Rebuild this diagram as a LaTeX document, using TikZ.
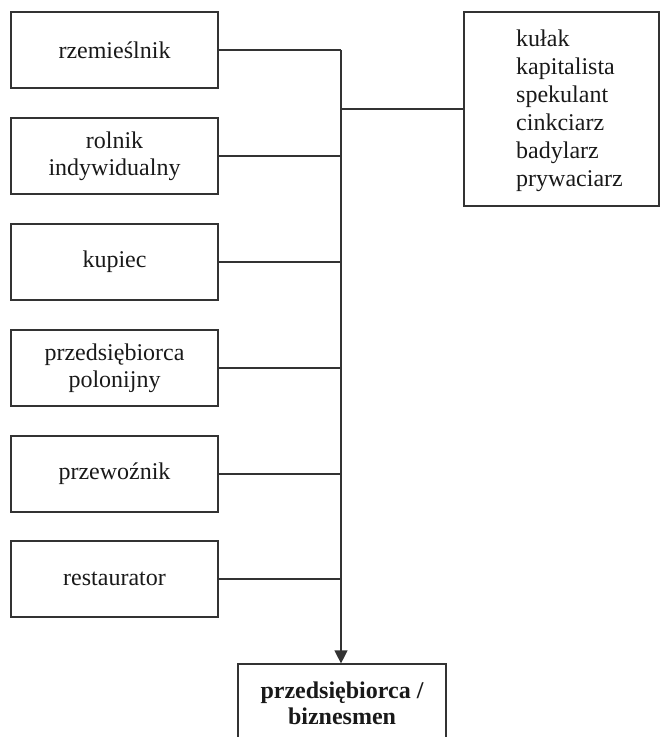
\documentclass[tikz,border=0pt]{standalone}
\usepackage{fontspec}
\setmainfont{Liberation Serif}
\usetikzlibrary{arrows.meta}
\begin{document}
\begin{tikzpicture}[x=0.5pt,y=-0.5pt,
  line width=0.6pt,
  every node/.style={text=black!90},
  leftbox/.style={draw=black!80,minimum width=103.5pt,minimum height=38pt,inner sep=0pt,
    align=center,font=\fontsize{12pt}{13.5pt}\selectfont},
  rightbox/.style={draw=black!80,minimum width=97.5pt,minimum height=97pt,inner sep=0pt},
  righttext/.style={inner sep=0pt,align=left,font=\fontsize{12pt}{14pt}\selectfont},
  bottombox/.style={draw=black!80,minimum width=104pt,minimum height=39pt,inner sep=0pt,
    align=center,font=\fontsize{12pt}{13pt}\selectfont\bfseries},
  conn/.style={draw=black!80}]
\useasboundingbox (0,0) rectangle (662,737);
\clip (0,0) rectangle (662,737);
\node[leftbox] (b1) at (114.5,50) {rzemieślnik};
\node[leftbox] (b2) at (114.5,156) {rolnik\\indywidualny};
\node[leftbox] (b3) at (114.5,262) {kupiec};
\node[leftbox] (b4) at (114.5,368) {przedsiębiorca\\polonijny};
\node[leftbox] (b5) at (114.5,474) {przewoźnik};
\node[leftbox] (b6) at (114.5,579) {restaurator};
\node[rightbox] (rb) at (561.5,109) {};
\node[righttext] (rbt) at (569.5,111) {kułak\\kapitalista\\spekulant\\cinkciarz\\badylarz\\prywaciarz};
\node[bottombox] (bb) at (342,703) {przedsiębiorca /\\biznesmen};
\coordinate (spine) at (341,50);
\draw[conn] (b1.east) -- (b1.east -| spine);
\foreach \b in {b2,b3,b4,b5,b6}
  \draw[conn] (\b.east) -- (\b.east -| spine);
\draw[conn] (rb.west) -- (rb.west -| spine);
\draw[conn,-{Triangle[length=6.5pt,width=6.5pt]}] (spine) -- (spine |- bb.north);
\end{tikzpicture}
\end{document}
